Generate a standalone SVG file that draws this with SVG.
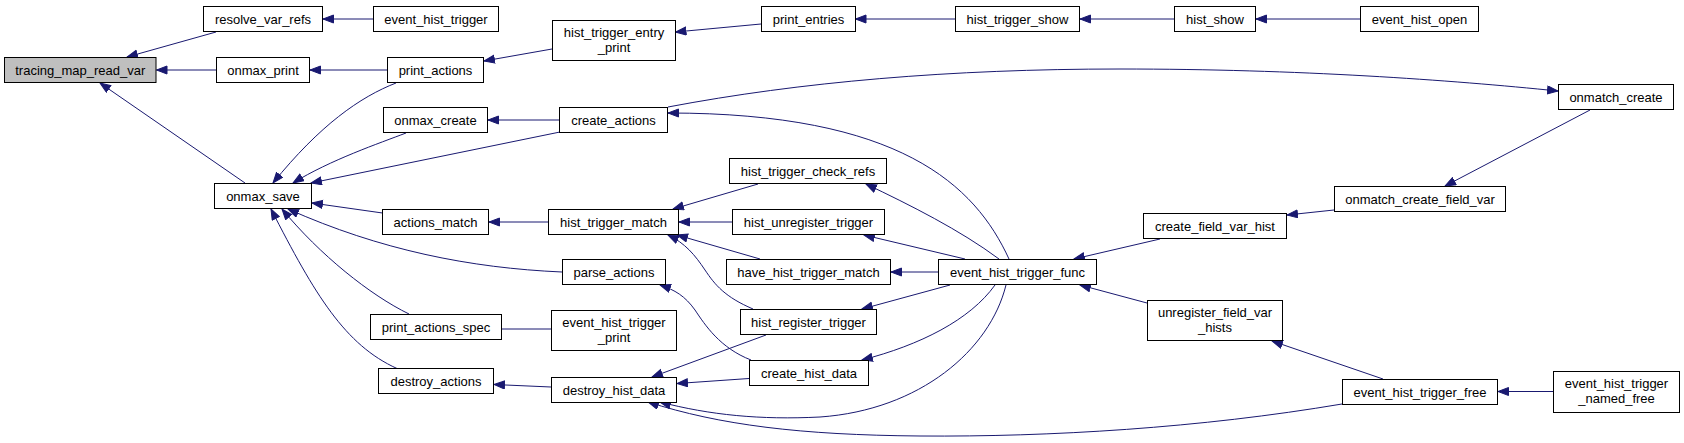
<svg xmlns="http://www.w3.org/2000/svg" width="1684" height="443" viewBox="0 0 1684 443">
<style>
.n rect{fill:#fff;stroke:#000;stroke-width:1}
.n.h rect{fill:#bfbfbf}
.n text{font-family:"Liberation Sans",Arial,sans-serif;font-size:13px;fill:#000;text-anchor:middle}
.e path{fill:none;stroke:#191970;stroke-width:1;marker-end:url(#a)}
</style>
<defs>
<marker id="a" markerUnits="userSpaceOnUse" markerWidth="12" markerHeight="10" refX="11" refY="4.5" orient="auto">
<path d="M0.5,0.5 L11,4.5 L0.5,8.5 z" fill="#191970" stroke="#191970" stroke-width="1"/>
</marker>
</defs>
<rect width="1684" height="443" fill="#fff"/>
<g id="edges" class="e">
<path d="M216,32 L127,57"/>
<path d="M373,19 L323,19"/>
<path d="M216.5,70 L156.5,70"/>
<path d="M387.5,70 L310,70"/>
<path d="M245,183 L100,83"/>
<path d="M552,49 L484,61"/>
<path d="M761,24 L675.5,32"/>
<path d="M955,19 L855.5,19"/>
<path d="M1174.5,19 L1080,19"/>
<path d="M1360.5,19 L1256,19"/>
<path d="M396,83 C360,97 320,125 273,183"/>
<path d="M406,133 C380,143 330,160 293,183"/>
<path d="M560,132 L311,183"/>
<path d="M559.5,120 L488,120"/>
<path d="M382.5,213 L312,203"/>
<path d="M548.5,222 L489,222"/>
<path d="M562,272 C470,268 380,250 288,209"/>
<path d="M409,314 C370,295 320,255 282,209"/>
<path d="M397,368.5 C345,345 315,295 271,209"/>
<path d="M551,329 L469,329"/>
<path d="M551,387 L494,384.5"/>
<path d="M668,107 C800,82 950,69 1120,69 C1300,69 1450,80 1558,91"/>
<path d="M1009,259 C975,185 900,113 668,113"/>
<path d="M1590,110 L1445,186"/>
<path d="M1334,210 L1287,215"/>
<path d="M1160,239 L1074,259"/>
<path d="M1147,303 L1080,285"/>
<path d="M1383,379 L1272,341"/>
<path d="M1553,391.5 L1498,391.5"/>
<path d="M1342,404 C1200,428 1050,437 920,436 C800,435 720,425 648,402"/>
<path d="M1006,285 C990,350 920,410 820,417 C760,420 710,415 660,402"/>
<path d="M766,335 L652,377"/>
<path d="M749,378.5 L677,383.5"/>
<path d="M995,285 C970,320 920,345 862,360"/>
<path d="M950,285 L862,309"/>
<path d="M751,360 C720,348 705,325 695,310 C685,296 675,290 660,285"/>
<path d="M753,309 C725,297 715,285 705,270 C695,255 685,243 668,235"/>
<path d="M760,259 L677,235"/>
<path d="M732,222 L679,222"/>
<path d="M758,184 L673,209"/>
<path d="M999,259 C960,230 910,205 866,184"/>
<path d="M965,259 L864,235"/>
<path d="M938,272 L891,272"/>
</g>
<g id="tracing_map_read_var" class="n h"><rect x="4.5" y="57.5" width="151.5" height="25"/><text x="80.3" y="74.5">tracing_map_read_var</text></g>
<g id="resolve_var_refs" class="n"><rect x="203.5" y="6.5" width="119" height="25"/><text x="263" y="23.5">resolve_var_refs</text></g>
<g id="event_hist_trigger" class="n"><rect x="373.5" y="6.5" width="125" height="25"/><text x="436" y="23.5">event_hist_trigger</text></g>
<g id="onmax_print" class="n"><rect x="216.5" y="57.5" width="93" height="25"/><text x="263" y="74.5">onmax_print</text></g>
<g id="print_actions" class="n"><rect x="387.5" y="57.5" width="96" height="25"/><text x="435.5" y="74.5">print_actions</text></g>
<g id="onmax_create" class="n"><rect x="383.5" y="107.5" width="104" height="25"/><text x="435.5" y="124.5">onmax_create</text></g>
<g id="hist_trigger_entry_print" class="n"><rect x="552.5" y="20.5" width="123" height="40"/><text x="614" y="37">hist_trigger_entry</text><text x="614" y="52">_print</text></g>
<g id="print_entries" class="n"><rect x="761.5" y="6.5" width="94" height="25"/><text x="808.5" y="23.5">print_entries</text></g>
<g id="hist_trigger_show" class="n"><rect x="955.5" y="6.5" width="124" height="25"/><text x="1017.5" y="23.5">hist_trigger_show</text></g>
<g id="hist_show" class="n"><rect x="1174.5" y="6.5" width="81" height="25"/><text x="1215" y="23.5">hist_show</text></g>
<g id="event_hist_open" class="n"><rect x="1360.5" y="6.5" width="118" height="25"/><text x="1419.5" y="23.5">event_hist_open</text></g>
<g id="create_actions" class="n"><rect x="559.5" y="107.5" width="108" height="25"/><text x="613.5" y="124.5">create_actions</text></g>
<g id="onmatch_create" class="n"><rect x="1558.5" y="84.5" width="115" height="25"/><text x="1616" y="101.5">onmatch_create</text></g>
<g id="onmax_save" class="n"><rect x="214.5" y="183.5" width="97" height="25"/><text x="263" y="200.5">onmax_save</text></g>
<g id="actions_match" class="n"><rect x="382.5" y="209.5" width="106" height="25"/><text x="435.5" y="226.5">actions_match</text></g>
<g id="hist_trigger_check_refs" class="n"><rect x="729.5" y="158.5" width="157" height="25"/><text x="808" y="175.5">hist_trigger_check_refs</text></g>
<g id="hist_trigger_match" class="n"><rect x="548.5" y="209.5" width="130" height="25"/><text x="613.5" y="226.5">hist_trigger_match</text></g>
<g id="hist_unregister_trigger" class="n"><rect x="732.5" y="209.5" width="152" height="25"/><text x="808.5" y="226.5">hist_unregister_trigger</text></g>
<g id="parse_actions" class="n"><rect x="562.5" y="259.5" width="103" height="25"/><text x="614" y="276.5">parse_actions</text></g>
<g id="have_hist_trigger_match" class="n"><rect x="726.5" y="259.5" width="164" height="25"/><text x="808.5" y="276.5">have_hist_trigger_match</text></g>
<g id="event_hist_trigger_func" class="n"><rect x="938.5" y="259.5" width="158" height="25"/><text x="1017.5" y="276.5">event_hist_trigger_func</text></g>
<g id="onmatch_create_field_var" class="n"><rect x="1334.5" y="186.5" width="171" height="25"/><text x="1420" y="203.5">onmatch_create_field_var</text></g>
<g id="create_field_var_hist" class="n"><rect x="1143.5" y="213.5" width="143" height="25"/><text x="1215" y="230.5">create_field_var_hist</text></g>
<g id="print_actions_spec" class="n"><rect x="370.5" y="314.5" width="131" height="25"/><text x="436" y="331.5">print_actions_spec</text></g>
<g id="destroy_actions" class="n"><rect x="378.5" y="368.5" width="115" height="25"/><text x="436" y="385.5">destroy_actions</text></g>
<g id="event_hist_trigger_print" class="n"><rect x="551.5" y="310.5" width="125" height="40"/><text x="614" y="327">event_hist_trigger</text><text x="614" y="342">_print</text></g>
<g id="hist_register_trigger" class="n"><rect x="740.5" y="309.5" width="136" height="25"/><text x="808.5" y="326.5">hist_register_trigger</text></g>
<g id="create_hist_data" class="n"><rect x="749.5" y="360.5" width="119" height="25"/><text x="809" y="377.5">create_hist_data</text></g>
<g id="destroy_hist_data" class="n"><rect x="551.5" y="377.5" width="125" height="25"/><text x="614" y="394.5">destroy_hist_data</text></g>
<g id="unregister_field_var_hists" class="n"><rect x="1147.5" y="300.5" width="135" height="40"/><text x="1215" y="317">unregister_field_var</text><text x="1215" y="332">_hists</text></g>
<g id="event_hist_trigger_free" class="n"><rect x="1342.5" y="379.5" width="155" height="25"/><text x="1420" y="396.5">event_hist_trigger_free</text></g>
<g id="event_hist_trigger_named_free" class="n"><rect x="1553.5" y="371.5" width="126" height="41"/><text x="1616.5" y="388">event_hist_trigger</text><text x="1616.5" y="403">_named_free</text></g>
</svg>
